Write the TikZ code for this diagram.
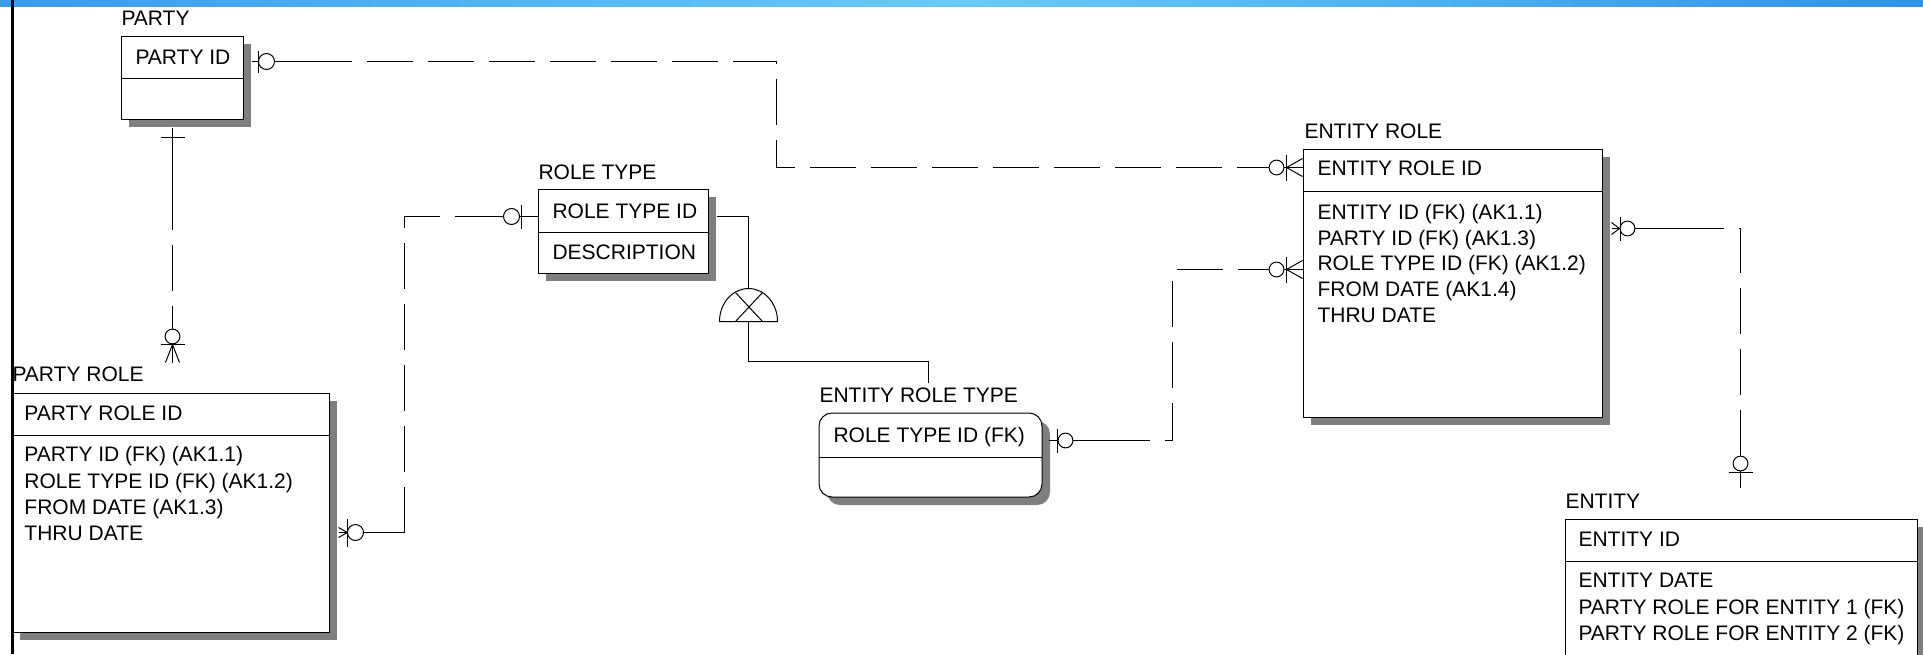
\documentclass[tikz,border=0pt]{standalone}
\usepackage{fontspec}
\setmainfont{Liberation Sans}
\usetikzlibrary{fit,shadows,calc}
\definecolor{shadowgray}{HTML}{7F7F7F}
\definecolor{bandL}{HTML}{3A9BEF}
\definecolor{bandM}{HTML}{69CBF9}
\definecolor{bandR}{HTML}{2F93E8}
\begin{document}
\begin{tikzpicture}[x=0.5pt,y=-0.5pt,line width=0.5pt,
  every node/.style={font=\fontsize{10.5}{13}\selectfont},
  ebox/.style={draw, fill=white, inner sep=0pt, line width=0.5pt,
    drop shadow={shadow xshift=4pt, shadow yshift=-4pt, opacity=1, fill=shadowgray}},
  attr/.style={anchor=west, inner sep=0pt, text height=7.5pt, text depth=0pt},
  conn/.style={dash pattern=on 23pt off 7.5pt},
  sym/.style={fill=white},
]
\useasboundingbox (0,0) rectangle (1923,654);
\clip (0,0) rectangle (1923,654);
\fill[white] (0,0) rectangle (1923,654);
\shade[left color=bandL, right color=bandR, middle color=bandM] (0,0) rectangle (1923,6);

% PARTY
\node[ebox, fit={(121,36) (243,119)}] (party) {};
\draw (121,78) -- (243,78);
\node[attr] (partylbl) at (121,18) {PARTY};
\node[attr] (partyid) at (135,57) {PARTY ID};

% PARTY ROLE
\node[ebox, fit={(12,393) (329,632)}] (partyrole) {};
\draw (12,435) -- (329,435);
\node[attr] (partyrolelbl) at (12,374) {PARTY ROLE};
\node[attr] (partyroleid) at (24,413) {PARTY ROLE ID};
\node[attr] (pr1) at (24,454) {PARTY ID (FK) (AK1.1)};
\node[attr] (pr2) at (24,481) {ROLE TYPE ID (FK) (AK1.2)};
\node[attr] (pr3) at (24,507) {FROM DATE (AK1.3)};
\node[attr] (pr4) at (24,533) {THRU DATE};

% ROLE TYPE
\node[ebox, fit={(538,189) (708,273)}] (roletype) {};
\draw (538,232) -- (708,232);
\node[attr] (roletypelbl) at (538,172) {ROLE TYPE};
\node[attr] (roletypeid) at (552,211) {ROLE TYPE ID};
\node[attr] (rt1) at (552,252) {DESCRIPTION};

% ENTITY ROLE TYPE
\node[ebox, rounded corners=6.5pt, fit={(819,413) (1042,497)}] (ertype) {};
\draw (819,457) -- (1042,457);
\node[attr] (ertypelbl) at (819,395) {ENTITY ROLE TYPE};
\node[attr] (ertypeid) at (833,435) {ROLE TYPE ID (FK)};

% ENTITY ROLE
\node[ebox, fit={(1303,149) (1602,417)}] (entityrole) {};
\draw (1303,191) -- (1602,191);
\node[attr] (entityrolelbl) at (1304,131) {ENTITY ROLE};
\node[attr] (entityroleid) at (1317,168) {ENTITY ROLE ID};
\node[attr] (er1) at (1317,212) {ENTITY ID (FK) (AK1.1)};
\node[attr] (er2) at (1317,237.5) {PARTY ID (FK) (AK1.3)};
\node[attr] (er3) at (1317,263) {ROLE TYPE ID (FK) (AK1.2)};
\node[attr] (er4) at (1317,289) {FROM DATE (AK1.4)};
\node[attr] (er5) at (1317,315) {THRU DATE};

% ENTITY
\node[ebox, fit={(1565,519) (1917,720)}] (entity) {};
\draw (1565,561) -- (1917,561);
\node[attr] (entitylbl) at (1565,501) {ENTITY};
\node[attr] (entityid) at (1578,539) {ENTITY ID};
\node[attr] (en1) at (1578,580) {ENTITY DATE};
\node[attr] (en2) at (1578,607) {PARTY ROLE FOR ENTITY 1 (FK)};
\node[attr] (en3) at (1578,633) {PARTY ROLE FOR ENTITY 2 (FK)};

% 1: PARTY -> ENTITY ROLE
\coordinate (c1s) at ($(party.north east)+(8,26)$);
\coordinate (c1e) at ($(entityrole.north west)+(0,19)$);
\draw (c1s) -- ++(54,0) coordinate (c1a);
\draw[conn] (c1a) -| ($(c1e)+(-526,0)$) -- ($(c1e)+(-43,0)$) coordinate (c1b);
\draw (c1b) -- (c1e);
\draw ($(c1s)+(7,-11)$) -- ($(c1s)+(7,11)$);
\draw[sym] ($(c1s)+(15,0)$) circle[radius=4pt];
\draw[sym] ($(c1e)+(-26,0)$) circle[radius=3.7pt];
\draw ($(c1e)+(-16,-13)$) -- ($(c1e)+(-16,13)$);
\draw ($(c1e)+(0,-9)$) -- ($(c1e)+(-16,0)$) -- ($(c1e)+(0,9)$);

% 2: PARTY -> PARTY ROLE
\coordinate (c2s) at ($(party.south west)+(52,8)$);
\coordinate (c2e) at ($(partyrole.north west)+(161,-30)$);
\draw (c2s) -- ++(0,56) coordinate (c2a);
\draw[conn] (c2a) -- ($(c2e)+(0,-41)$) coordinate (c2b);
\draw (c2b) -- (c2e);
\draw ($(c2s)+(-12,10)$) -- ($(c2s)+(12,10)$);
\draw[sym] ($(c2e)+(0,-26)$) circle[radius=3.7pt];
\draw ($(c2e)+(-12,-18)$) -- ($(c2e)+(12,-18)$);
\draw ($(c2e)+(-7,0)$) -- ($(c2e)+(0,-18)$) -- ($(c2e)+(7,0)$);

% 3: PARTY ROLE -> ROLE TYPE
\coordinate (c3s) at ($(partyrole.north east)+(9,140)$);
\coordinate (c3e) at ($(roletype.north west)+(0,28)$);
\draw (c3s) -- ++(66,0) coordinate (c3a);
\draw[conn] (c3a) |- ($(c3e)+(-62,0)$) coordinate (c3b);
\draw (c3b) -- (c3e);
\draw ($(c3s)+(0,-5)$) -- ($(c3s)+(9,0)$) -- ($(c3s)+(0,5)$);
\draw ($(c3s)+(9,-14)$) -- ($(c3s)+(9,14)$);
\draw[sym] ($(c3s)+(17,0)$) circle[radius=4pt];
\draw[sym] ($(c3e)+(-26,0)$) circle[radius=4pt];
\draw ($(c3e)+(-16,-12)$) -- ($(c3e)+(-16,12)$);

% 4: ROLE TYPE -> ENTITY ROLE TYPE (subtype)
\coordinate (c4s) at ($(roletype.north east)+(8,28)$);
\coordinate (c4e) at ($(ertype.north west)+(110,-30)$);
\coordinate (sub) at ($(c4s)+(32,105)$);
\draw (c4s) -| ($(sub)+(0,-33)$);
\draw[fill=white] ($(sub)+(-29,0)$) arc[start angle=180, end angle=0, x radius=14.5pt, y radius=16.5pt] -- cycle;
\draw ($(sub)+(-13,0)$) -- ($(sub)+(14,-29)$);
\draw ($(sub)+(-13,-29)$) -- ($(sub)+(14,0)$);
\draw (sub) -- ++(0,40) -| (c4e);

% 5: ENTITY ROLE TYPE -> ENTITY ROLE
\coordinate (c5s) at ($(ertype.north east)+(6,28)$);
\coordinate (c5e) at ($(entityrole.north west)+(0,121)$);
\draw (c5s) -- ++(55,0) coordinate (c5a);
\draw[conn] (c5a) -| ($(c5e)+(-130,0)$) -- ($(c5e)+(-43,0)$) coordinate (c5b);
\draw (c5b) -- (c5e);
\draw ($(c5s)+(9,-12)$) -- ($(c5s)+(9,12)$);
\draw[sym] ($(c5s)+(17,0)$) circle[radius=3.7pt];
\draw[sym] ($(c5e)+(-26,0)$) circle[radius=3.7pt];
\draw ($(c5e)+(-16,-13)$) -- ($(c5e)+(-16,13)$);
\draw ($(c5e)+(0,-9)$) -- ($(c5e)+(-16,0)$) -- ($(c5e)+(0,9)$);

% 6: ENTITY ROLE -> ENTITY
\coordinate (c6s) at ($(entityrole.north east)+(9,80)$);
\coordinate (c6e) at ($(entity.north west)+(176,-31)$);
\draw (c6s) -- ++(66,0) coordinate (c6a);
\draw[conn] (c6a) -| ($(c6e)+(0,-33)$) coordinate (c6b);
\draw (c6b) -- (c6e);
\draw ($(c6s)+(0,-6)$) -- ($(c6s)+(8,0)$) -- ($(c6s)+(0,6)$);
\draw ($(c6s)+(9,-12)$) -- ($(c6s)+(9,12)$);
\draw[sym] ($(c6s)+(16,0)$) circle[radius=3.7pt];
\draw[sym] ($(c6e)+(0,-24)$) circle[radius=3.7pt];
\draw ($(c6e)+(-12,-15)$) -- ($(c6e)+(12,-15)$);

% left frame line
\fill[black] (11,0) rectangle (13.5,654);
\end{tikzpicture}
\end{document}
